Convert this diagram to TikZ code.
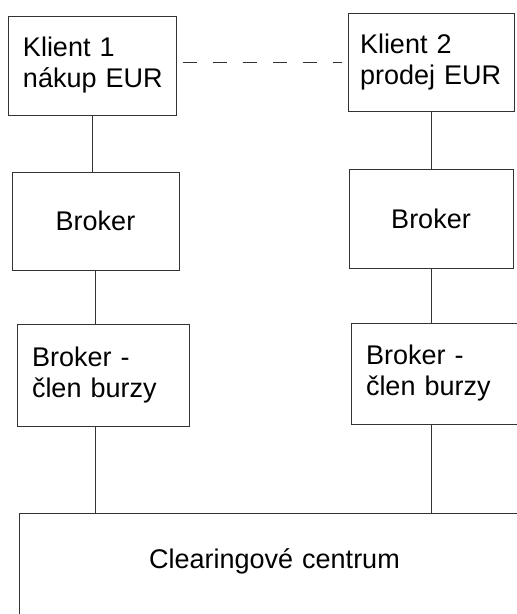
\documentclass[tikz,border=0pt]{standalone}
\usepackage{fontspec}
\setmainfont{Liberation Sans}

\begin{document}
\begin{tikzpicture}[x=1pt, y=-1pt,
    box/.style={draw=black!80, line width=1pt, rectangle, inner xsep=15pt, inner ysep=0pt,
      align=left, font=\fontsize{27}{31}\selectfont},
    link/.style={draw=black!80, line width=1pt}]
  \useasboundingbox (0,0) rectangle (517,614);
  \clip (0,0) rectangle (517,614);
  % klienti
  \node[box, text width=138pt, minimum height=99pt] (klient1) at (92,65.5) {Klient 1\\nákup~EUR};
  \node[box, inner xsep=12pt, text width=142pt, minimum height=98pt] (klient2) at (431,62) {Klient 2\\prodej~EUR};
  % brokeri
  \node[box, align=center, text width=137pt, minimum height=98pt] (broker1) at (95.5,221) {Broker};
  \node[box, align=center, text width=134pt, minimum height=99pt] (broker2) at (431,218.5) {Broker};
  % clenove burzy
  \node[box, text width=142pt, minimum height=102pt] (clen1) at (103,375) {Broker -\\člen~burzy};
  \node[box, text width=142pt, minimum height=101pt] (clen2) at (437,373.5) {Broker -\\člen~burzy};
  % clearing
  \node[box, align=center, text width=481pt, minimum height=112pt, text height=20pt, text depth=22pt] (clearing) at (274.5,569) {Clearingové centrum};
  % spojeni
  \draw[link, dash pattern=on 14pt off 16pt, shorten <=6pt, shorten >=6pt] (klient2.west -| klient1.east) -- (klient2.west);
  \draw[link] (klient1.south) -- (klient1.south |- broker1.north);
  \draw[link] (broker1.south) -- (broker1.south |- clen1.north);
  \draw[link] (broker1.south |- clen1.south) -- (broker1.south |- clearing.north);
  \draw[link] (klient2.south) -- (klient2.south |- broker2.north);
  \draw[link] (broker2.south) -- (broker2.south |- clen2.north);
  \draw[link] (broker2.south |- clen2.south) -- (broker2.south |- clearing.north);
\end{tikzpicture}
\end{document}
